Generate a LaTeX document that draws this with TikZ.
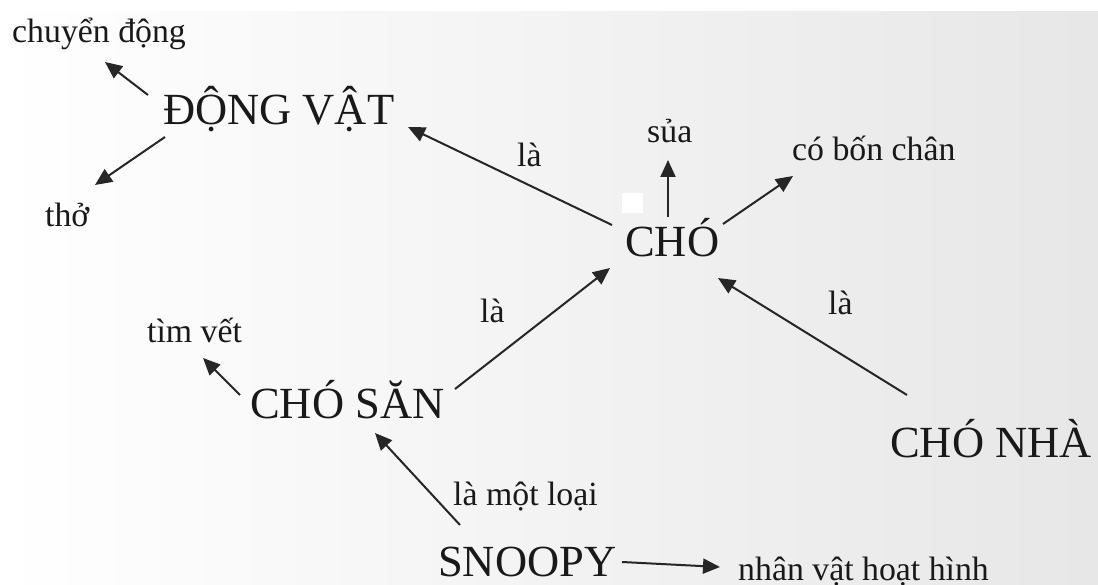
\documentclass[tikz,border=0pt]{standalone}
\usepackage{fontspec}
\setmainfont{Liberation Serif}
\usetikzlibrary{arrows.meta,calc}

\tikzset{
  bigtext/.style={anchor=base west, inner sep=0pt, text=black!90,
    font=\fontsize{44.5}{50}\selectfont},
  smalltext/.style={anchor=base west, inner sep=0pt, text=black!90,
    font=\fontsize{33.8}{40}\selectfont},
  link/.style={draw=black!85, line width=2pt,
    -{Triangle[length=17pt,width=15pt]}},
}

\begin{document}
\begin{tikzpicture}[x=1pt,y=-1pt]
  % page and soft grey backdrop
  \useasboundingbox (0,0) rectangle (1098,585);
  \fill[white] (0,0) rectangle (1098,585);
  \shade[left color=white, right color=gray!19] (0,12) rectangle (1098,585);

  % concepts
  \node[bigtext]   (dongvat) at (163,125) {ĐỘNG VẬT};
  \node[bigtext]   (cho)     at (625,257) {CHÓ};
  \node[bigtext]   (chosan)  at (250,418) {CHÓ SĂN};
  \node[bigtext]   (chonha)  at (890,457) {CHÓ NHÀ};
  \node[bigtext]   (snoopy)  at (438,576) {SNOOPY};

  % properties
  \node[smalltext] (chuyen)  at (12,43)   {chuyển động};
  \node[smalltext] (tho)     at (45,227)  {thở};
  \node[smalltext] (sua)     at (647,143) {sủa};
  \node[smalltext] (bonchan) at (792,161) {có bốn chân};
  \node[smalltext] (timvet)  at (147,343) {tìm vết};
  \node[smalltext] (hoathinh) at (738,580) {nhân vật hoạt hình};

  % relation labels
  \node[smalltext] (la1)     at (517,167) {là};
  \node[smalltext] (la2)     at (480,323) {là};
  \node[smalltext] (la3)     at (828,315) {là};
  \node[smalltext] (motloai) at (453,505) {là một loại};

  % small white patch beside CHÓ
  \fill[white] (622,193) rectangle (643,213);

  % connectors
  \draw[link] ($(dongvat.base west)+(-15,-30)$) -- ($(chuyen.base west)+(93,19)$);
  \draw[link] ($(dongvat.base west)+(2,12)$)    -- ($(tho.base west)+(50,-42)$);
  \draw[link] ($(cho.base west)+(-13,-32)$)     -- ($(dongvat.base west)+(245,2)$);
  \draw[link] ($(cho.base west)+(43,-40)$)      -- ($(sua.base west)+(21,17)$);
  \draw[link] ($(cho.base west)+(98,-33)$)      -- ($(bonchan.base west)+(1,15)$);
  \draw[link] ($(chonha.base west)+(17,-62)$)   -- ($(cho.base west)+(93,21)$);
  \draw[link] ($(chosan.base west)+(205,-29)$)  -- ($(cho.base west)+(-15,11)$);
  \draw[link] ($(chosan.base west)+(-10,-23)$)  -- ($(timvet.base west)+(56,15)$);
  \draw[link] ($(snoopy.base west)+(22,-51)$)   -- ($(chosan.base west)+(125,15)$);
  \draw[link] ($(snoopy.base west)+(184,-14)$)  -- ($(hoathinh.base west)+(-18,-13)$);
\end{tikzpicture}
\end{document}
